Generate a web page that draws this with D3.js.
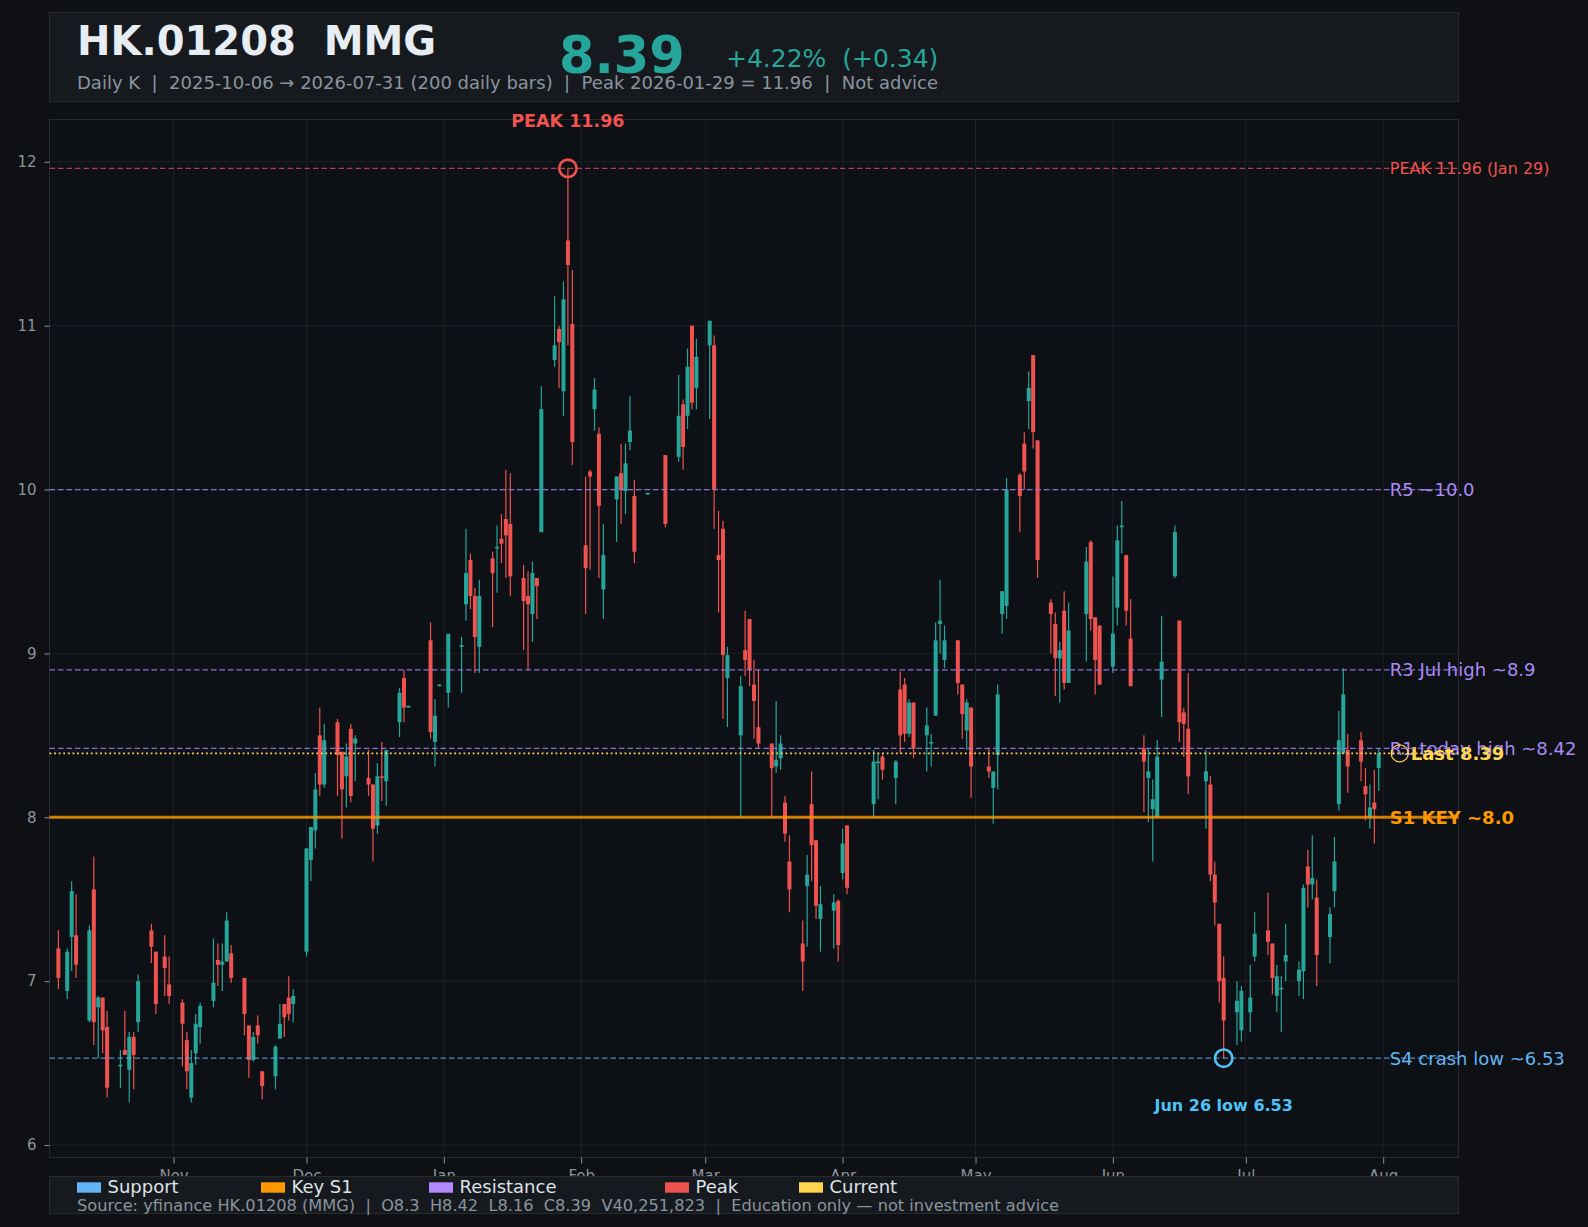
<!DOCTYPE html>
<html>
<head>
<meta charset="utf-8">
<script src="https://cdn.jsdelivr.net/npm/d3@7"></script>
<style>
  html, body { margin: 0; padding: 0; background: #0e1013; }
  svg { display: block; font-family: "DejaVu Sans", sans-serif; }
</style>
</head>
<body>
<svg id="chart" width="1588" height="1227"></svg>
<script>
// DATA
const ticker = "HK.01208";
const shortName = "MMG";
const lastVolume = 40251823;

const dates = [
  "2025-10-06","2025-10-08","2025-10-09","2025-10-10","2025-10-13","2025-10-14","2025-10-15","2025-10-16","2025-10-17","2025-10-20","2025-10-21","2025-10-22","2025-10-23","2025-10-24","2025-10-27","2025-10-28","2025-10-30","2025-10-31",
  "2025-11-03","2025-11-04","2025-11-05","2025-11-06","2025-11-07","2025-11-10","2025-11-11","2025-11-12","2025-11-13","2025-11-14","2025-11-17","2025-11-18","2025-11-19","2025-11-20","2025-11-21","2025-11-24","2025-11-25","2025-11-26","2025-11-27","2025-11-28",
  "2025-12-01","2025-12-02","2025-12-03","2025-12-04","2025-12-05","2025-12-08","2025-12-09","2025-12-10","2025-12-11","2025-12-12","2025-12-15","2025-12-16","2025-12-17","2025-12-18","2025-12-19","2025-12-22","2025-12-23","2025-12-24","2025-12-29","2025-12-30","2025-12-31",
  "2026-01-02","2026-01-05","2026-01-06","2026-01-07","2026-01-08","2026-01-09","2026-01-12","2026-01-13","2026-01-14","2026-01-15","2026-01-16","2026-01-19","2026-01-20","2026-01-21","2026-01-22","2026-01-23","2026-01-26","2026-01-27","2026-01-28","2026-01-29","2026-01-30",
  "2026-02-02","2026-02-03","2026-02-04","2026-02-05","2026-02-06","2026-02-09","2026-02-10","2026-02-11","2026-02-12","2026-02-13","2026-02-16","2026-02-20","2026-02-23","2026-02-24","2026-02-25","2026-02-26","2026-02-27",
  "2026-03-02","2026-03-03","2026-03-04","2026-03-05","2026-03-06","2026-03-09","2026-03-10","2026-03-11","2026-03-12","2026-03-13","2026-03-16","2026-03-17","2026-03-18","2026-03-19","2026-03-20","2026-03-23","2026-03-24","2026-03-25","2026-03-26","2026-03-27","2026-03-30","2026-03-31",
  "2026-04-01","2026-04-02","2026-04-08","2026-04-09","2026-04-10","2026-04-13","2026-04-14","2026-04-15","2026-04-16","2026-04-17","2026-04-20","2026-04-21","2026-04-22","2026-04-23","2026-04-24","2026-04-27","2026-04-28","2026-04-29","2026-04-30",
  "2026-05-04","2026-05-05","2026-05-06","2026-05-07","2026-05-08","2026-05-11","2026-05-12","2026-05-13","2026-05-14","2026-05-15","2026-05-18","2026-05-19","2026-05-20","2026-05-21","2026-05-22","2026-05-26","2026-05-27","2026-05-28","2026-05-29",
  "2026-06-01","2026-06-02","2026-06-03","2026-06-04","2026-06-05","2026-06-08","2026-06-09","2026-06-10","2026-06-11","2026-06-12","2026-06-15","2026-06-16","2026-06-17","2026-06-18","2026-06-22","2026-06-23","2026-06-24","2026-06-25","2026-06-26","2026-06-29","2026-06-30",
  "2026-07-02","2026-07-03","2026-07-06","2026-07-07","2026-07-08","2026-07-09","2026-07-10","2026-07-13","2026-07-14","2026-07-15","2026-07-16","2026-07-17","2026-07-20","2026-07-21","2026-07-22","2026-07-23","2026-07-24","2026-07-27","2026-07-28","2026-07-29","2026-07-30","2026-07-31"
];

const opens = [
  7.20,6.94,7.27,7.28,6.76,7.56,6.84,6.90,6.72,6.48,6.58,6.46,6.66,6.75,7.31,7.18,7.15,6.98,
  6.87,6.64,6.29,6.56,6.72,6.88,7.13,7.10,7.12,7.17,7.02,6.73,6.52,6.73,6.45,6.42,6.65,6.86,6.90,6.86,
  7.18,7.74,7.92,8.50,8.20,8.58,8.40,8.25,8.54,8.45,8.24,8.20,7.95,8.25,8.22,8.58,8.85,8.67,9.08,8.46,8.80,
  8.76,9.04,9.30,9.57,9.35,9.04,9.58,9.64,9.70,9.82,9.79,9.46,9.35,9.24,9.46,9.74,10.79,10.98,10.60,11.52,11.01,
  9.66,10.11,10.49,10.34,9.39,9.94,10.10,9.99,10.29,9.96,9.97,10.21,10.20,10.52,10.45,11.00,10.62,
  10.88,10.88,9.60,9.76,8.85,8.50,9.02,9.21,8.81,8.55,8.45,8.31,8.36,8.09,7.73,7.23,7.58,8.08,7.86,7.38,7.43,7.49,
  7.66,7.95,8.08,8.33,8.37,8.24,8.78,8.81,8.51,8.70,8.50,8.45,8.62,9.18,8.96,9.08,8.81,8.53,8.67,
  8.31,8.18,8.38,9.24,9.29,10.09,10.28,10.54,10.82,10.30,9.31,9.18,8.97,9.26,8.82,9.24,9.68,9.22,9.17,
  8.92,9.28,9.77,9.60,9.09,8.42,8.24,8.05,8.00,8.84,9.47,9.20,8.64,8.54,8.22,8.20,7.65,7.35,7.02,6.81,6.70,
  6.81,7.15,7.31,7.23,6.91,6.95,7.12,7.00,7.06,7.70,7.59,7.51,7.27,7.55,8.08,8.39,8.41,8.47,8.19,8.00,8.09,8.30
];

const highs = [
  7.31,7.20,7.61,7.53,7.34,7.76,6.91,6.90,6.82,6.58,6.82,6.69,6.69,7.04,7.35,7.18,7.28,7.15,
  6.89,6.69,6.58,6.80,6.87,7.26,7.23,7.23,7.42,7.22,7.02,6.73,6.69,6.79,6.45,6.61,6.86,6.86,7.03,6.95,
  7.81,7.94,8.27,8.67,8.57,8.60,8.40,8.45,8.57,8.50,8.41,8.20,8.33,8.46,8.41,8.79,8.90,8.68,9.19,8.72,8.81,
  9.12,9.10,9.76,9.61,9.40,9.45,9.62,9.78,9.85,10.12,10.10,9.54,9.50,9.56,9.46,10.63,11.18,11.00,11.27,11.96,11.34,
  10.08,10.12,10.68,10.38,9.79,10.08,10.28,10.28,10.57,10.06,9.98,10.21,10.70,10.55,10.86,11.00,10.92,
  11.03,10.94,9.87,9.81,9.04,8.86,9.26,9.21,8.96,8.90,8.45,8.71,8.50,8.13,7.89,7.37,7.77,8.28,7.86,7.58,7.53,7.50,
  7.93,7.95,8.41,8.39,8.39,8.35,8.89,8.85,8.72,8.70,8.67,8.51,9.19,9.45,9.17,9.08,8.81,8.72,8.67,
  8.42,8.28,8.81,9.38,10.07,10.10,10.35,10.72,10.82,10.30,9.33,9.25,9.07,9.38,9.31,9.65,9.69,9.22,9.17,
  9.47,9.78,9.93,9.60,9.33,8.50,8.42,8.23,8.47,9.23,9.78,9.20,8.67,8.88,8.41,8.25,7.73,7.35,7.15,7.00,6.97,
  7.10,7.42,7.54,7.23,7.10,7.03,7.35,7.12,7.59,7.80,7.89,7.62,7.45,7.88,8.65,8.91,8.51,8.52,8.30,8.20,8.29,8.42
];

const lows = [
  6.95,6.89,7.06,7.02,6.75,6.61,6.53,6.56,6.29,6.35,6.55,6.26,6.34,6.69,7.11,6.80,6.91,6.86,
  6.48,6.34,6.26,6.49,6.62,6.84,6.97,6.94,7.12,6.99,6.67,6.41,6.51,6.62,6.28,6.34,6.65,6.66,6.76,6.75,
  7.15,7.61,7.81,8.13,8.18,8.13,7.87,8.06,8.09,8.22,8.13,7.73,7.90,8.10,8.07,8.49,8.58,8.67,8.48,8.31,8.80,
  8.67,8.76,9.20,9.27,8.88,8.88,9.16,9.37,9.55,9.46,9.35,9.02,8.90,9.07,9.21,9.74,10.75,10.62,10.45,10.88,10.15,
  9.24,9.51,10.36,9.46,9.21,9.68,9.79,9.85,10.24,9.55,9.97,9.77,10.17,10.12,10.37,10.49,10.49,
  10.43,9.76,9.25,8.60,8.55,8.00,8.86,8.80,8.48,8.42,8.00,8.27,8.29,7.85,7.42,6.94,7.21,7.61,7.38,7.18,7.20,7.12,
  7.62,7.53,8.00,8.11,8.23,8.08,8.39,8.46,8.49,8.36,8.28,8.31,8.62,9.00,8.91,8.75,8.48,8.41,8.12,
  8.24,7.96,8.17,9.12,9.21,9.74,10.00,10.37,10.25,9.46,9.00,8.74,8.70,8.78,8.82,8.95,9.14,8.75,8.81,
  8.88,9.17,9.61,9.17,8.80,8.03,7.97,7.73,8.00,8.61,9.46,8.46,8.37,8.14,7.93,7.61,7.34,6.87,6.53,6.61,6.63,
  6.69,7.12,7.16,6.92,6.81,6.69,7.00,6.91,6.89,7.45,7.50,6.97,7.11,7.45,8.04,8.39,8.15,8.22,7.98,7.93,7.84,8.16
];

const closes = [
  7.02,7.18,7.55,7.10,7.31,6.75,6.90,6.70,6.35,6.49,6.55,6.66,6.55,7.00,7.21,6.86,7.08,6.91,
  6.74,6.45,6.50,6.74,6.85,6.99,7.10,7.12,7.37,7.02,6.80,6.52,6.66,6.67,6.36,6.60,6.74,6.78,6.80,6.91,
  7.81,7.94,8.17,8.20,8.47,8.38,8.17,8.37,8.13,8.48,8.20,7.93,8.25,8.24,8.41,8.76,8.67,8.68,8.52,8.62,8.81,
  9.12,9.05,9.49,9.35,9.10,9.35,9.49,9.65,9.67,9.72,9.47,9.32,9.30,9.49,9.41,10.49,10.88,10.90,11.16,11.37,10.29,
  9.52,10.08,10.61,9.90,9.60,10.08,10.00,10.16,10.36,9.62,9.98,9.79,10.45,10.26,10.75,10.53,10.81,
  11.03,10.00,9.57,8.99,8.99,8.80,8.96,8.90,8.71,8.45,8.30,8.35,8.45,7.90,7.56,7.12,7.65,7.83,7.46,7.47,7.48,7.22,
  7.84,7.57,8.34,8.34,8.29,8.34,8.50,8.51,8.70,8.42,8.56,8.46,9.08,9.20,9.08,8.82,8.63,8.70,8.31,
  8.28,8.28,8.75,9.38,10.00,9.96,10.11,10.62,10.35,9.57,9.24,8.97,9.02,8.82,9.14,9.56,9.21,8.96,8.81,
  9.12,9.69,9.78,9.26,8.80,8.34,8.28,8.11,8.37,8.95,9.74,8.58,8.57,8.25,8.28,7.65,7.48,7.00,6.76,6.88,6.94,
  6.90,7.29,7.24,7.02,7.03,6.96,7.16,7.07,7.57,7.59,7.63,7.16,7.41,7.73,8.47,8.75,8.31,8.34,8.14,8.06,8.05,8.39
];

// horizontal levels drawn across the plot
const levelLabels = ["PEAK 11.96 (Jan 29)", "R5 ~10.0", "R3 Jul high ~8.9", "R1 today high ~8.42", "S1 KEY ~8.0", "S4 crash low ~6.53"];
const levelValues = [11.96, 10.0, 8.9, 8.42, 8.0, 6.53];
const levelKinds = ["peak", "resistance", "resistance", "resistance", "key", "support"];

const peakDate = "2026-01-29";
const peakValue = 11.96;
const lowDate = "2026-06-26";
const lowValue = 6.53;

const legendLabels = ["Support", "Key S1", "Resistance", "Peak", "Current"];
const legendKinds = ["support", "key", "resistance", "peak", "current"];

const yTickValues = [6, 7, 8, 9, 10, 11, 12];

// STYLE + LAYOUT
const W = 1588, H = 1227;
const plot = { left: 49.5, right: 1458.5, top: 119.5, bottom: 1157.5 };
const UP = "#26a69a", DOWN = "#ef5350";
const kindColor = {
  peak: "#ef5350",
  resistance: "#b388ff",
  key: "#ff9800",
  support: "#64b5f6",
  current: "#ffd54f"
};
const labelColor = { ...kindColor, resistance: "#a98bf7" };
const legendX = [77, 261, 429, 665, 799];

const svg = d3.select("#chart");
const parse = d3.timeParse("%Y-%m-%d");

const bars = dates.map((d, i) => ({
  date: parse(d), o: opens[i], h: highs[i], l: lows[i], c: closes[i]
}));
const last = bars[bars.length - 1];
const prev = bars[bars.length - 2];

// SCALES
const x = d3.scaleTime()
  .domain([parse("2025-10-04"), parse("2026-08-18")])
  .range([plot.left, plot.right]);

const y = d3.scaleLinear()
  .domain([5.924, 12.258])
  .range([plot.bottom, plot.top]);

svg.append("rect").attr("width", W).attr("height", H).attr("fill", "#0e1013");

// HEADER
const header = svg.append("g");
header.append("rect")
  .attr("x", plot.left).attr("y", 12.5)
  .attr("width", plot.right - plot.left).attr("height", 89)
  .attr("fill", "#161a1f").attr("stroke", "#262b31");

header.append("text")
  .attr("x", 77).attr("y", 55)
  .attr("font-size", 40).attr("font-weight", "bold")
  .attr("fill", "#e6edf3").style("white-space", "pre")
  .text(`${ticker}  ${shortName}`);

header.append("text")
  .attr("x", 559).attr("y", 72.5)
  .attr("font-size", 51).attr("font-weight", "bold")
  .attr("fill", UP)
  .text(last.c.toFixed(2));

const chg = last.c - prev.c;
const fmtSigned = d3.format("+.2f");
header.append("text")
  .attr("x", 726).attr("y", 66.5)
  .attr("font-size", 25)
  .attr("fill", UP).style("white-space", "pre")
  .text(`${fmtSigned(chg / prev.c * 100)}%  (${fmtSigned(chg)})`);

header.append("text")
  .attr("x", 77).attr("y", 89)
  .attr("font-size", 18)
  .attr("fill", "#8b949e").style("white-space", "pre")
  .text(`Daily K  |  ${dates[0]} \u2192 ${dates[dates.length - 1]} (${dates.length} daily bars)  |  Peak ${peakDate} = ${peakValue.toFixed(2)}  |  Not advice`);

// PLOT FRAME + GRID
svg.append("rect")
  .attr("x", plot.left).attr("y", plot.top)
  .attr("width", plot.right - plot.left).attr("height", plot.bottom - plot.top)
  .attr("fill", "#0d1014").attr("stroke", "#262a30");

const monthTicks = x.ticks(d3.timeMonth.every(1));

svg.append("g").selectAll("line")
  .data(yTickValues)
  .join("line")
  .attr("x1", plot.left + 0.5).attr("x2", plot.right - 0.5)
  .attr("y1", d => y(d)).attr("y2", d => y(d))
  .attr("stroke", "#1d2126").attr("stroke-width", 1);

svg.append("g").selectAll("line")
  .data(monthTicks)
  .join("line")
  .attr("x1", d => x(d)).attr("x2", d => x(d))
  .attr("y1", plot.top + 0.5).attr("y2", plot.bottom - 0.5)
  .attr("stroke", "#1d2126").attr("stroke-width", 1);

// AXES
const yAxis = svg.append("g")
  .attr("transform", `translate(${plot.left},0)`)
  .call(d3.axisLeft(y).tickValues(yTickValues).tickFormat(d3.format("d")).tickSize(5).tickPadding(8));

const xAxis = svg.append("g")
  .attr("transform", `translate(0,${plot.bottom})`)
  .call(d3.axisBottom(x).tickValues(monthTicks).tickFormat(d3.timeFormat("%b")).tickSize(6).tickPadding(7));

[yAxis, xAxis].forEach(g => {
  g.select(".domain").remove();
  g.selectAll(".tick line").attr("stroke", "#8b949e");
  g.selectAll(".tick text")
    .attr("fill", "#8b949e")
    .attr("font-size", 15)
    .attr("font-family", "DejaVu Sans");
});

// CANDLES
const candles = svg.append("g");
candles.selectAll("line")
  .data(bars)
  .join("line")
  .attr("x1", d => x(d.date)).attr("x2", d => x(d.date))
  .attr("y1", d => y(d.h)).attr("y2", d => y(d.l))
  .attr("stroke", d => d.c >= d.o ? UP : DOWN)
  .attr("stroke-width", 1.2);

candles.selectAll("rect")
  .data(bars)
  .join("rect")
  .attr("x", d => x(d.date) - 2)
  .attr("width", 4)
  .attr("y", d => y(Math.max(d.o, d.c)))
  .attr("height", d => Math.max(1.2, Math.abs(y(d.o) - y(d.c))))
  .attr("fill", d => d.c >= d.o ? UP : DOWN);

// LEVEL LABELS (drawn under the lines, like the source)
const labelX = x(last.date) + 11;
const labelSize = { peak: 16, resistance: 18, key: 18, support: 18 };

svg.append("g").selectAll("text")
  .data(levelValues)
  .join("text")
  .attr("x", labelX)
  .attr("y", (d, i) => y(d) + labelSize[levelKinds[i]] * 0.36)
  .attr("font-size", (d, i) => labelSize[levelKinds[i]])
  .attr("font-weight", (d, i) => levelKinds[i] === "key" ? "bold" : "normal")
  .attr("fill", (d, i) => labelColor[levelKinds[i]])
  .text((d, i) => levelLabels[i]);

// current price marker + label
svg.append("circle")
  .attr("cx", labelX + 10).attr("cy", y(last.c))
  .attr("r", 8.5)
  .attr("fill", "none").attr("stroke", kindColor.current).attr("stroke-width", 1.3);

svg.append("text")
  .attr("x", labelX + 21).attr("y", y(last.c) + 18 * 0.36)
  .attr("font-size", 18).attr("font-weight", "bold")
  .attr("fill", kindColor.current)
  .text(`Last ${last.c.toFixed(2)}`);

// LEVEL LINES
const lineStyle = {
  peak: { color: "#ef5350", width: 1.3, dash: "5.5,3", opacity: 0.75 },
  resistance: { color: "#9a78ea", width: 1.3, dash: "5.5,3", opacity: 0.9 },
  key: { color: "#ff9800", width: 3, dash: null, opacity: 0.8 },
  support: { color: "#64b5f6", width: 1.3, dash: "5.5,3", opacity: 0.75 }
};

svg.append("g").selectAll("line")
  .data(levelValues)
  .join("line")
  .attr("x1", plot.left).attr("x2", plot.right)
  .attr("y1", d => y(d)).attr("y2", d => y(d))
  .attr("stroke", (d, i) => lineStyle[levelKinds[i]].color)
  .attr("stroke-width", (d, i) => lineStyle[levelKinds[i]].width)
  .attr("stroke-dasharray", (d, i) => lineStyle[levelKinds[i]].dash)
  .attr("stroke-opacity", (d, i) => lineStyle[levelKinds[i]].opacity);

svg.append("line")
  .attr("x1", plot.left).attr("x2", plot.right)
  .attr("y1", y(last.c)).attr("y2", y(last.c))
  .attr("stroke", kindColor.current)
  .attr("stroke-width", 1.6)
  .attr("stroke-dasharray", "1.8,2.8");

// PEAK / LOW ANNOTATIONS
const px = x(parse(peakDate)), lx = x(parse(lowDate));

svg.append("circle")
  .attr("cx", px).attr("cy", y(peakValue)).attr("r", 8.7)
  .attr("fill", "none").attr("stroke", "#ef5350").attr("stroke-width", 2.6);

svg.append("text")
  .attr("x", px).attr("y", y(peakValue) - 41)
  .attr("text-anchor", "middle")
  .attr("font-size", 17.5).attr("font-weight", "bold")
  .attr("fill", "#ef5350")
  .text(`PEAK ${peakValue.toFixed(2)}`);

svg.append("circle")
  .attr("cx", lx).attr("cy", y(lowValue)).attr("r", 8.7)
  .attr("fill", "none").attr("stroke", "#4fc3f7").attr("stroke-width", 2.6);

svg.append("text")
  .attr("x", lx).attr("y", y(lowValue) + 52.5)
  .attr("text-anchor", "middle")
  .attr("font-size", 16).attr("font-weight", "bold")
  .attr("fill", "#4fc3f7")
  .text(`${d3.timeFormat("%b %-d")(parse(lowDate))} low ${lowValue.toFixed(2)}`);

// LEGEND BOX (sits over the month labels)
const legend = svg.append("g");
legend.append("rect")
  .attr("x", plot.left).attr("y", 1176.5)
  .attr("width", plot.right - plot.left).attr("height", 37)
  .attr("fill", "#161a1f").attr("stroke", "#262b31");

legend.selectAll(".swatch")
  .data(legendLabels)
  .join("rect")
  .attr("class", "swatch")
  .attr("x", (d, i) => legendX[i]).attr("y", 1182.3)
  .attr("width", 24).attr("height", 10.4)
  .attr("fill", (d, i) => kindColor[legendKinds[i]]);

legend.selectAll(".item")
  .data(legendLabels)
  .join("text")
  .attr("class", "item")
  .attr("x", (d, i) => legendX[i] + 30.5).attr("y", 1193.3)
  .attr("font-size", 18)
  .attr("fill", "#dfe3e8")
  .text(d => d);

const fmtNum = v => String(+v.toFixed(2));
legend.append("text")
  .attr("x", 77).attr("y", 1211)
  .attr("font-size", 16.2)
  .attr("fill", "#8b949e").style("white-space", "pre")
  .text(`Source: yfinance ${ticker} (${shortName})  |  O${fmtNum(last.o)}  H${fmtNum(last.h)}  L${fmtNum(last.l)}  C${fmtNum(last.c)}  V${d3.format(",")(lastVolume)}  |  Education only \u2014 not investment advice`);
</script>
</body>
</html>
